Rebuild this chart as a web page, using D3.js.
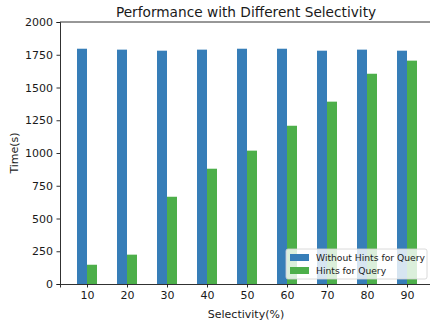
<!DOCTYPE html>
<html>
<head>
<meta charset="utf-8">
<script src="https://cdn.jsdelivr.net/npm/d3@7"></script>
<style>
  body { margin: 0; background: #fff; }
  svg text { font-family: "DejaVu Sans", sans-serif; fill: #1a1a1a; }
</style>
</head>
<body>
<div id="chart"></div>
<script>
// data
const selectivity = ["10", "20", "30", "40", "50", "60", "70", "80", "90"];
const withoutHints = [1796, 1789, 1781, 1789, 1796, 1796, 1781, 1789, 1781];
const withHints = [147, 224, 666, 880, 1018, 1208, 1392, 1605, 1705];
const yTicks = [0, 250, 500, 750, 1000, 1250, 1500, 1750, 2000];
const seriesNames = ["Without Hints for Query", "Hints for Query"];
const seriesColors = ["#377eb8", "#4daf4a"];

const width = 430, height = 322;
const margin = {top: 22, left: 60, bottom: 38};
const plotH = height - margin.top - margin.bottom;

const svg = d3.select("#chart").append("svg")
  .attr("width", width).attr("height", height);

// x: continuous index scale, matplotlib-like margins
const x = d3.scaleLinear().domain([-0.675, 8.675]).range([margin.left, margin.left + 374]);
const y = d3.scaleLinear().domain([0, 2000]).range([height - margin.bottom, margin.top]);
const barW = x(0.25) - x(0);

const series = [withoutHints, withHints];
series.forEach((vals, s) => {
  svg.append("g").selectAll("rect")
    .data(vals)
    .enter().append("rect")
      .attr("x", (d, i) => x(i - 0.25 + s * 0.25))
      .attr("y", d => y(d))
      .attr("width", barW)
      .attr("height", d => y(0) - y(d))
      .attr("fill", seriesColors[s]);
});

// axes
const xAxis = svg.append("g")
  .attr("transform", "translate(0," + y(0) + ")")
  .call(d3.axisBottom(x).tickValues(d3.range(selectivity.length))
    .tickFormat(i => selectivity[i]).tickSizeOuter(0).tickSize(3.5).tickPadding(3.5));
const yAxis = svg.append("g")
  .attr("transform", "translate(" + margin.left + ",0)")
  .call(d3.axisLeft(y).tickValues(yTicks).tickFormat(d3.format("d"))
    .tickSizeOuter(0).tickSize(3.5).tickPadding(3.5));
[xAxis, yAxis].forEach(a => {
  a.selectAll("text").style("font-size", "11px").attr("fill", "#1a1a1a");
  a.selectAll("line").attr("stroke", "#1a1a1a").attr("stroke-width", 0.9);
  a.select(".domain").attr("stroke", "#1a1a1a").attr("stroke-width", 0.9);
});

// top spine
svg.append("line")
  .attr("x1", margin.left).attr("x2", width)
  .attr("y1", y(2000)).attr("y2", y(2000))
  .attr("stroke", "#1a1a1a").attr("stroke-width", 0.9);

// title and labels
svg.append("text")
  .attr("x", 246).attr("y", 17)
  .attr("text-anchor", "middle")
  .style("font-size", "13.7px")
  .text("Performance with Different Selectivity");
svg.append("text")
  .attr("x", 246).attr("y", 318)
  .attr("text-anchor", "middle")
  .style("font-size", "11px")
  .text("Selectivity(%)");
svg.append("text")
  .attr("transform", "translate(18," + (margin.top + plotH / 2) + ") rotate(-90)")
  .attr("text-anchor", "middle")
  .style("font-size", "11px")
  .text("Time(s)");

// legend
const legend = svg.append("g").attr("transform", "translate(286,249)");
legend.append("rect")
  .attr("width", 141).attr("height", 30).attr("rx", 2)
  .attr("fill", "white").attr("fill-opacity", 0.8)
  .attr("stroke", "#d0d0d0").attr("stroke-width", 0.8);
seriesNames.forEach((name, i) => {
  legend.append("rect")
    .attr("x", 4).attr("y", 5 + i * 13)
    .attr("width", 19).attr("height", 7)
    .attr("fill", seriesColors[i]);
  legend.append("text")
    .attr("x", 30).attr("y", 12 + i * 13)
    .style("font-size", "9.2px")
    .text(name);
});
</script>
</body>
</html>
